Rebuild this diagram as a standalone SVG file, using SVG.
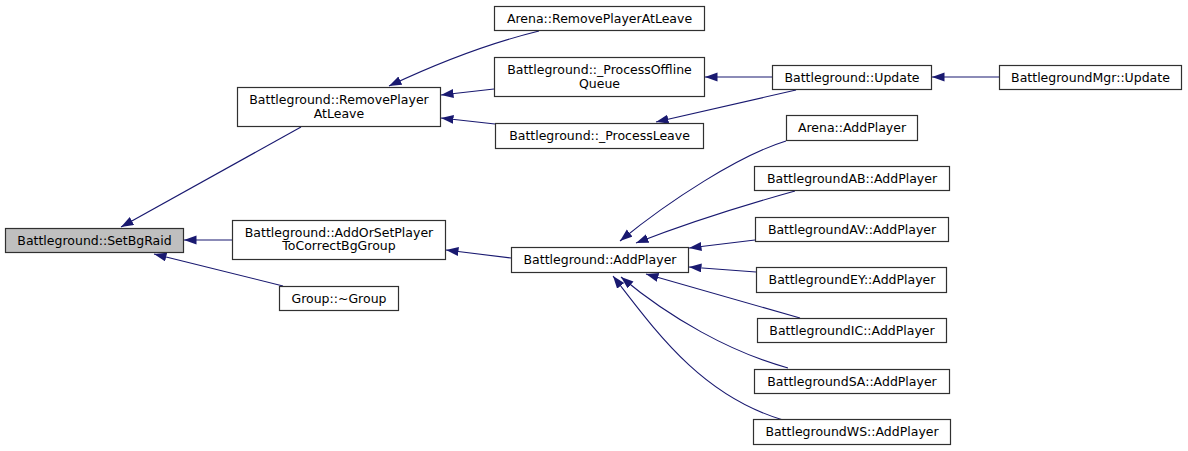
<svg xmlns="http://www.w3.org/2000/svg" width="1188" height="451" viewBox="0 0 1188 451">
<defs>
<style>
.n rect{fill:#ffffff;stroke:#303030;stroke-width:1.2}
.n text{font-family:"DejaVu Sans","Liberation Sans",sans-serif;font-size:12.5px;text-anchor:middle;fill:#000000}
#edges path{fill:none;stroke:#191970;stroke-width:1.1;marker-end:url(#ah)}
</style>
<marker id="ah" markerUnits="userSpaceOnUse" markerWidth="14" markerHeight="10" refX="12.5" refY="4.5" orient="auto">
<path d="M0,0 L12.5,4.5 L0,9 z" fill="#191970" stroke="none"/>
</marker>
</defs>
<rect x="0" y="0" width="1188" height="451" fill="#ffffff"/>
<g id="edges">
<path d="M301,127 L121,227"/>
<path d="M232,240 L184,240"/>
<path d="M283,286 L154,254"/>
<path d="M539,31 C490,43 440,62 389,86"/>
<path d="M494,89 L441,95"/>
<path d="M495,124 L441,118"/>
<path d="M772,77 L705,77"/>
<path d="M796,90 L656,122"/>
<path d="M999,77 L932,77"/>
<path d="M511,258 L446,250"/>
<path d="M786,141 C740,155 670,200 620,241"/>
<path d="M795,191 C745,205 690,222 636,243"/>
<path d="M755,240 L689,248"/>
<path d="M756,272 L689,267"/>
<path d="M800,318 L646,274"/>
<path d="M788,368 C730,352 670,318 621,277"/>
<path d="M783,420 C700,395 655,330 613,276"/>
</g>
<g id="n_setbgraid" class="n"><rect x="5.5" y="228.5" width="178" height="24" style="fill:#bfbfbf"/><text x="94.5" y="244.5">Battleground::SetBgRaid</text></g>
<g id="n_removeplayeratleave" class="n"><rect x="237.5" y="87.5" width="203" height="39"/><text x="339" y="104">Battleground::RemovePlayer</text><text x="339" y="117.5">AtLeave</text></g>
<g id="n_addorsetplayer" class="n"><rect x="232.5" y="220.5" width="213" height="39"/><text x="339" y="236.5">Battleground::AddOrSetPlayer</text><text x="339" y="250">ToCorrectBgGroup</text></g>
<g id="n_group" class="n"><rect x="279.5" y="286.5" width="119" height="24"/><text x="339" y="302.5">Group::~Group</text></g>
<g id="n_arena_remove" class="n"><rect x="494.5" y="6.5" width="210" height="24"/><text x="599.5" y="22.5">Arena::RemovePlayerAtLeave</text></g>
<g id="n_processoffline" class="n"><rect x="494.5" y="57.5" width="210" height="39"/><text x="599.5" y="74">Battleground::_ProcessOffline</text><text x="599.5" y="87.5">Queue</text></g>
<g id="n_processleave" class="n"><rect x="495.5" y="123.5" width="208" height="25"/><text x="599.5" y="140">Battleground::_ProcessLeave</text></g>
<g id="n_update" class="n"><rect x="772.5" y="65.5" width="159" height="24"/><text x="852" y="81.5">Battleground::Update</text></g>
<g id="n_mgr_update" class="n"><rect x="999.5" y="65.5" width="182" height="24"/><text x="1090.5" y="81.5">BattlegroundMgr::Update</text></g>
<g id="n_addplayer" class="n"><rect x="511.5" y="247.5" width="177" height="25"/><text x="600" y="264">Battleground::AddPlayer</text></g>
<g id="n_arena_add" class="n"><rect x="786.5" y="115.5" width="131" height="25"/><text x="852" y="132">Arena::AddPlayer</text></g>
<g id="n_ab" class="n"><rect x="754.5" y="166.5" width="195" height="24"/><text x="852" y="182.5">BattlegroundAB::AddPlayer</text></g>
<g id="n_av" class="n"><rect x="755.5" y="217.5" width="193" height="24"/><text x="852" y="233.5">BattlegroundAV::AddPlayer</text></g>
<g id="n_ey" class="n"><rect x="756.5" y="267.5" width="190" height="25"/><text x="852" y="284">BattlegroundEY::AddPlayer</text></g>
<g id="n_ic" class="n"><rect x="757.5" y="318.5" width="189" height="24"/><text x="852" y="334.5">BattlegroundIC::AddPlayer</text></g>
<g id="n_sa" class="n"><rect x="754.5" y="369.5" width="195" height="24"/><text x="852" y="385.5">BattlegroundSA::AddPlayer</text></g>
<g id="n_ws" class="n"><rect x="753.5" y="419.5" width="197" height="25"/><text x="852" y="436">BattlegroundWS::AddPlayer</text></g>
</svg>
